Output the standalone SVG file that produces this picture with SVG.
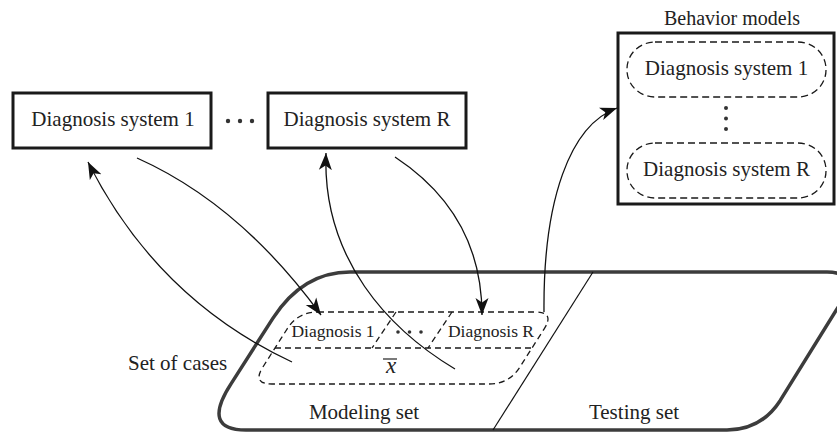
<svg xmlns="http://www.w3.org/2000/svg" width="837" height="433" viewBox="0 0 837 433" font-family="'Liberation Serif', 'Times New Roman', 'DejaVu Serif', serif">
<style>
  text { font-family: 'Liberation Serif', 'Times New Roman', 'DejaVu Serif', serif; fill: #222; }
  .box { fill: #fff; stroke: #1a1a1a; stroke-width: 3; }
  .pill { fill: none; stroke: #1a1a1a; stroke-width: 1.3; stroke-dasharray: 7 4; }
  .dash { fill: none; stroke: #1a1a1a; stroke-width: 1.3; stroke-dasharray: 6 4; }
  .conn { fill: none; stroke: #111; stroke-width: 1.3; }
  .big { fill: none; stroke: #3c3c3c; stroke-width: 3.5; stroke-linejoin: round; }
  .dot { fill: #333; }
  .t21 { font-size: 21px; }
</style>
<defs>
  <marker id="ah" markerUnits="userSpaceOnUse" markerWidth="18" markerHeight="14" refX="17" refY="7" orient="auto">
    <path d="M0,0.5 L17,7 L0,13.5 L4.5,7 Z" fill="#111"/>
  </marker>
</defs>

<g id="set-of-cases">
  <path class="big" d="M350,272 L827,272 Q861,272 836.5,309.7 L780.1,400.7 Q761,430 727,430 L246,430 Q201,430 231,383.9 L273,318.1 Q303,272 350,272 Z"/>
  <line x1="593" y1="272" x2="493" y2="430" stroke="#111" stroke-width="1.2"/>
  <text class="t21" x="128" y="370">Set of cases</text>
  <text class="t21" x="364" y="419" text-anchor="middle">Modeling set</text>
  <text class="t21" x="634" y="419" text-anchor="middle">Testing set</text>
</g>

<g id="case-record">
  <path class="dash" d="M318,312 L535,312 Q555,312 544.2,328.8 L519.8,367.2 Q509,384 489,384 L272,384 Q252,384 262.8,367.2 L287.2,328.8 Q298,312 318,312 Z"/>
  <line class="dash" x1="275" y1="348" x2="532" y2="348"/>
  <line class="dash" x1="396" y1="312" x2="372" y2="348"/>
  <line class="dash" x1="452" y1="312" x2="428" y2="348"/>
  <text x="333" y="337" font-size="17.5" text-anchor="middle">Diagnosis 1</text>
  <circle class="dot" cx="398" cy="332" r="1.8"/>
  <circle class="dot" cx="409.5" cy="332" r="1.8"/>
  <circle class="dot" cx="421" cy="332" r="1.8"/>
  <text x="491" y="337" font-size="17.5" text-anchor="middle">Diagnosis R</text>
  <text x="391" y="373" font-size="23" font-style="italic" text-anchor="middle">x</text>
  <line x1="383" y1="359" x2="397" y2="359" stroke="#222" stroke-width="1.2"/>
</g>

<g id="diagnosis-system-1">
  <rect class="box" x="13" y="93" width="198" height="55"/>
  <text class="t21" x="113" y="126" text-anchor="middle">Diagnosis system 1</text>
</g>

<g id="ellipsis-systems">
  <circle class="dot" cx="228" cy="121" r="2.2"/>
  <circle class="dot" cx="240" cy="121" r="2.2"/>
  <circle class="dot" cx="252" cy="121" r="2.2"/>
</g>

<g id="diagnosis-system-R">
  <rect class="box" x="268" y="93" width="198" height="55"/>
  <text class="t21" x="367" y="126" text-anchor="middle">Diagnosis system R</text>
</g>

<g id="behavior-models">
  <text x="732" y="25" font-size="20" text-anchor="middle">Behavior models</text>
  <rect class="box" x="618" y="33" width="216" height="171"/>
  <g id="bm-system-1">
    <rect class="pill" x="627" y="42" width="199" height="55" rx="28" ry="27"/>
    <text class="t21" x="726.5" y="75" text-anchor="middle">Diagnosis system 1</text>
  </g>
  <circle class="dot" cx="726" cy="108" r="2"/>
  <circle class="dot" cx="726" cy="118.5" r="2"/>
  <circle class="dot" cx="726" cy="129" r="2"/>
  <g id="bm-system-R">
    <rect class="pill" x="627" y="143" width="199" height="55" rx="28" ry="27"/>
    <text class="t21" x="726.5" y="176" text-anchor="middle">Diagnosis system R</text>
  </g>
</g>

<g id="connectors">
  <path class="conn" marker-end="url(#ah)" d="M292,362 Q157,299 88,162"/>
  <path class="conn" marker-end="url(#ah)" d="M137,158 Q240,204 321,315"/>
  <path class="conn" marker-end="url(#ah)" d="M455,369 C390,330 322,260 326,153"/>
  <path class="conn" marker-end="url(#ah)" d="M395,157 C445,190 482,240 482,315"/>
  <path class="conn" marker-end="url(#ah)" d="M544,312 C543,200 570,125 617,108"/>
</g>
</svg>
